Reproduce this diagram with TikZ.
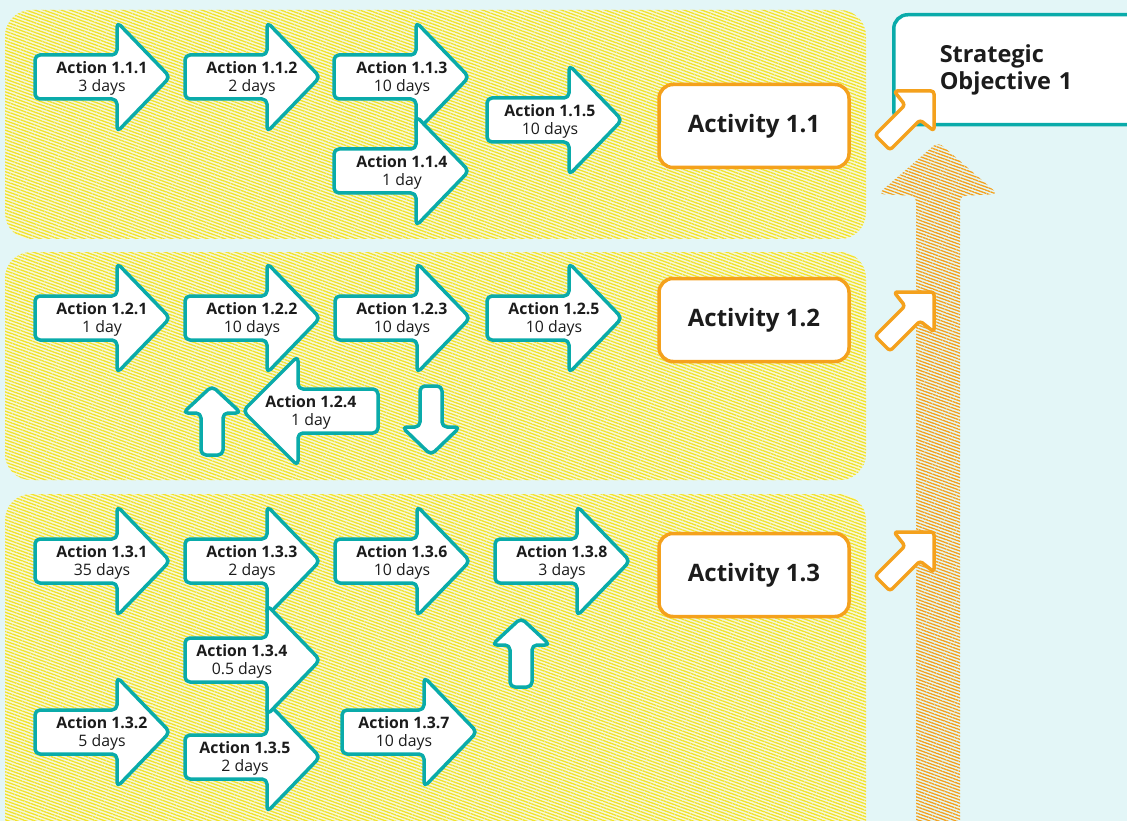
\documentclass[tikz,border=0pt]{standalone}
\usepackage{fontspec}
\setmainfont{Open Sans}
\usetikzlibrary{patterns.meta}

\definecolor{bgc}{HTML}{E3F6F7}
\definecolor{tealc}{HTML}{0AABAA}
\definecolor{orangec}{HTML}{F4A11D}
\definecolor{hatchy}{HTML}{F2E32A}
\definecolor{panelbase}{HTML}{F4F7DE}
\definecolor{ink}{HTML}{1C1C1C}

\tikzset{
  panel/.style={rounded corners=26pt, fill=panelbase,
    postaction={pattern={Lines[angle=-20,distance=3pt,line width=1.3pt]}, pattern color=hatchy}},
  bigarrow/.style={rounded corners=6pt,
    pattern={Lines[angle=-20,distance=3pt,line width=1.3pt]}, pattern color=orangec},
  actarrow/.style={draw=tealc, line width=3.5pt, fill=white, rounded corners=5pt, line join=round},
  acttext/.style={font=\fontsize{15.8}{18.5}\selectfont, text=ink, align=center, inner sep=0pt},
  actbox/.style={draw=orangec, line width=3.5pt, fill=white, rounded corners=14pt,
    minimum width=190pt, minimum height=83pt, text=ink,
    font=\fontsize{24}{28}\selectfont\bfseries},
  goalbox/.style={draw=tealc, line width=3.5pt, fill=white, rounded corners=14pt,
    anchor=north west, minimum width=258pt, minimum height=107pt,
    inner xsep=46pt, text width=166pt, align=left, text=ink,
    font=\fontsize{23.5}{27}\selectfont\bfseries},
  goalarrow/.style={draw=orangec, line width=3.5pt, fill=white, rounded corners=3pt, line join=round},
}

% right-pointing action arrow: [text offset] name, left x, centre y, title, duration
\newcommand\ActRight[6][67]{%
  \draw[actarrow] (#3,#4-22) -- (#3+82,#4-22) -- (#3+82,#4-55) -- (#3+135,#4)
    -- (#3+82,#4+55) -- (#3+82,#4+22) -- (#3,#4+22) -- cycle;
  \node[acttext] (#2) at (#3+#1,#4+1.5) {\textbf{#5}\\#6};
}
% left-pointing action arrow: name, right x, centre y, title, duration
\newcommand\ActLeft[5]{%
  \draw[actarrow] (#2,#3-22) -- (#2-80,#3-22) -- (#2-80,#3-55) -- (#2-135,#3)
    -- (#2-80,#3+55) -- (#2-80,#3+22) -- (#2,#3+22) -- cycle;
  \node[acttext] (#1) at (#2-67,#3+1.5) {\textbf{#4}\\#5};
}
% small up arrow: centre x, tip y
\newcommand\SmallUp[2]{%
  \draw[actarrow] (#1,#2) -- (#1+29,#2+27) -- (#1+11,#2+27) -- (#1+11,#2+69)
    -- (#1-11,#2+69) -- (#1-11,#2+27) -- (#1-29,#2+27) -- cycle;
}
% small down arrow: centre x, tip y
\newcommand\SmallDown[2]{%
  \draw[actarrow] (#1,#2) -- (#1+29,#2-28) -- (#1+11,#2-28) -- (#1+11,#2-69)
    -- (#1-11,#2-69) -- (#1-11,#2-28) -- (#1-29,#2-28) -- cycle;
}
% diagonal arrow towards the objective: tip corner x, y
\newcommand\GoalArrow[2]{%
  \draw[goalarrow] (#1,#2) -- (#1,#2+40) -- (#1-14,#2+29) -- (#1-44,#2+59)
    -- (#1-59,#2+44) -- (#1-29,#2+14) -- (#1-40,#2) -- cycle;
}

\begin{document}
\begin{tikzpicture}[x=1pt,y=-1pt]
\useasboundingbox (0,0) rectangle (1127,821);
\clip (0,0) rectangle (1127,821);
\fill[bgc] (0,0) rectangle (1127,821);

% activity bands
\path[panel] (5,10) rectangle (866,239);
\path[panel] (5,252) rectangle (866,480);
\path[panel] (5,494) rectangle (866,860);

% rising arrow towards the objective
\path[bigarrow] (938,142) -- (998,194) -- (960,196) -- (960,860) -- (916,860)
  -- (916,196) -- (878,194) -- cycle;

% Activity 1.1
\ActRight{a111}{35}{77}{Action 1.1.1}{3 days}
\ActRight{a112}{185}{77}{Action 1.1.2}{2 days}
\ActRight[68]{a113}{334}{77}{Action 1.1.3}{10 days}
\ActRight[68]{a114}{334}{171}{Action 1.1.4}{1 day}
\ActRight[63]{a115}{487}{120}{Action 1.1.5}{10 days}
\node[actbox] (act11) at (754,126) {Activity 1.1};

% Activity 1.2
\ActRight{a121}{35}{318}{Action 1.2.1}{1 day}
\ActRight{a122}{185}{318}{Action 1.2.2}{10 days}
\ActRight{a123}{335}{318}{Action 1.2.3}{10 days}
\ActRight{a125}{487}{318}{Action 1.2.5}{10 days}
\ActLeft{a124}{378}{411}{Action 1.2.4}{1 day}
\SmallUp{212}{386}
\SmallDown{431}{455}
\node[actbox] (act12) at (754,320) {Activity 1.2};

% Activity 1.3
\ActRight{a131}{35}{561}{Action 1.3.1}{35 days}
\ActRight{a133}{185}{561}{Action 1.3.3}{2 days}
\ActRight{a136}{335}{561}{Action 1.3.6}{10 days}
\ActRight{a138}{495}{561}{Action 1.3.8}{3 days}
\ActRight{a132}{35}{732}{Action 1.3.2}{5 days}
\ActRight[60]{a135}{185}{757}{Action 1.3.5}{2 days}
\ActRight[57]{a134}{185}{660}{Action 1.3.4}{0.5 days}
\ActRight[62]{a137}{342}{732}{Action 1.3.7}{10 days}
\SmallUp{521}{618}
\node[actbox] (act13) at (754,575) {Activity 1.3};

% strategic objective
\node[goalbox, minimum height=110pt] (goal) at (892,13) {Strategic\\Objective 1};
\GoalArrow{934}{91}
\GoalArrow{934}{292}
\GoalArrow{934}{532}
\end{tikzpicture}
\end{document}
